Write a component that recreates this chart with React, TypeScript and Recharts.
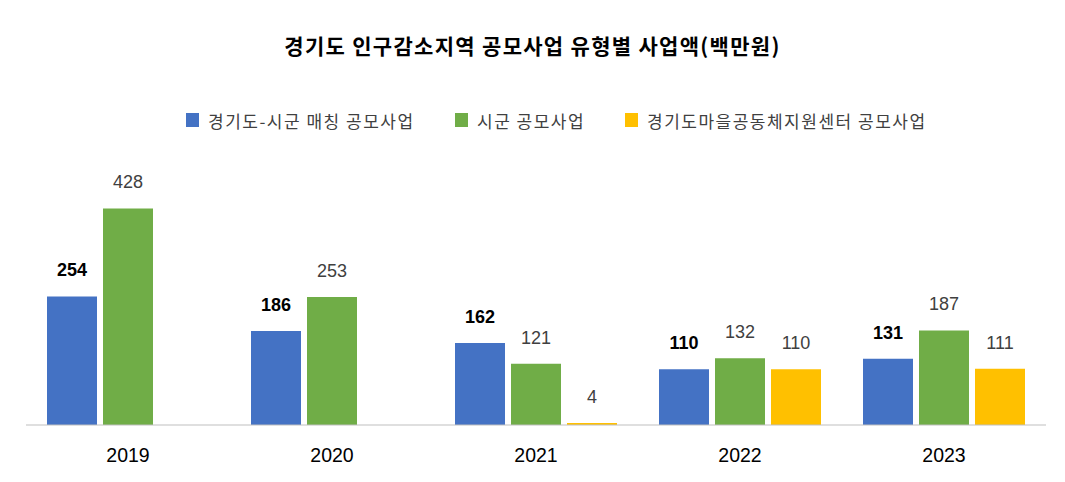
import React from "react";
import { BarChart, Bar, XAxis, YAxis, LabelList } from "recharts";

const years = ["2019", "2020", "2021", "2022", "2023"];
const matching = [254, 186, 162, 110, 131];
const cityCounty = [428, 253, 121, 132, 187];
const center: (number | null)[] = [null, null, 4, 110, 111];

const seriesNames = ["경기도-시군 매칭 공모사업", "시군 공모사업", "경기도마을공동체지원센터 공모사업"];
const colors = ["#4472C4", "#70AD47", "#FFC000"];
const title = "경기도 인구감소지역 공모사업 유형별 사업액(백만원)";

const data = years.map((y, i) => ({
  year: y,
  a: matching[i],
  b: cityCounty[i],
  c: center[i],
}));

const NUM_FONT = "'Liberation Sans', Arial, sans-serif";
const KR_FONT = "'Noto Sans CJK KR', sans-serif";

const makeLabel = (bold: boolean) => (props: any) => {
  const { x, y, width, value } = props;
  if (value === null || value === undefined) return null;
  return (
    <text
      x={x + width / 2}
      y={y - 26}
      textAnchor="middle"
      dominantBaseline="central"
      fontFamily={NUM_FONT}
      fontSize={18}
      fontWeight={bold ? 700 : 400}
      fill={bold ? "#000000" : "#404040"}
    >
      {value}
    </text>
  );
};

const Tick = (props: any) => {
  const { x, payload } = props;
  return (
    <text
      x={x}
      y={455}
      textAnchor="middle"
      dominantBaseline="central"
      fontFamily={NUM_FONT}
      fontSize={19.5}
      fill="#000000"
    >
      {payload.value}
    </text>
  );
};

const legendPos = [186, 455, 625];

export default function App() {
  return (
    <div style={{ position: "absolute", left: 0, top: 0, width: 1065, height: 482, background: "#fff" }}>
      <div
        style={{
          position: "absolute",
          left: 0,
          top: 30,
          width: 1065,
          textAlign: "center",
          fontFamily: KR_FONT,
          fontWeight: 700,
          fontSize: 21,
          letterSpacing: "1.3px",
          lineHeight: "30px",
          color: "#000",
        }}
      >
        {title}
      </div>
      {seriesNames.map((n, i) => (
        <div
          key={n}
          style={{
            position: "absolute",
            left: legendPos[i],
            top: 106,
            height: 28,
            display: "flex",
            alignItems: "center",
            fontFamily: KR_FONT,
            fontSize: 17,
            letterSpacing: "1.5px",
            color: "#404040",
            whiteSpace: "nowrap",
          }}
        >
          <span style={{ display: "inline-block", width: 13, height: 14, background: colors[i], marginRight: 9 }} />
          <span>{n}</span>
        </div>
      ))}
      <div style={{ position: "absolute", left: 0, top: 0 }}>
        <BarChart
          width={1065}
          height={482}
          data={data}
          margin={{ top: 172, right: 19, bottom: 17, left: 26 }}
          barSize={50}
          barGap={6}
        >
          <XAxis
            dataKey="year"
            height={40}
            tickLine={false}
            axisLine={{ stroke: "#BFBFBF", strokeWidth: 1 }}
            tick={<Tick />}
            interval={0}
          />
          <YAxis hide domain={[0, 500]} />
          <Bar dataKey="a" fill={colors[0]} isAnimationActive={false}>
            <LabelList dataKey="a" content={makeLabel(true)} />
          </Bar>
          <Bar dataKey="b" fill={colors[1]} isAnimationActive={false}>
            <LabelList dataKey="b" content={makeLabel(false)} />
          </Bar>
          <Bar dataKey="c" fill={colors[2]} isAnimationActive={false}>
            <LabelList dataKey="c" content={makeLabel(false)} />
          </Bar>
        </BarChart>
      </div>
    </div>
  );
}
